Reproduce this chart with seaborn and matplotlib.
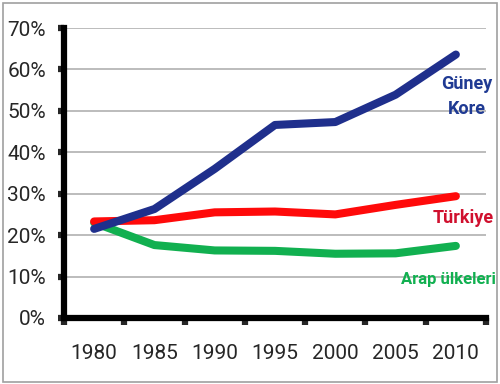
import pandas as pd
import matplotlib.pyplot as plt
import seaborn as sns
from matplotlib.patches import Rectangle
from matplotlib.ticker import PercentFormatter

# data (share, %)
years = ["1980", "1985", "1990", "1995", "2000", "2005", "2010"]
guney_kore = [21.5, 26.3, 36.0, 46.6, 47.3, 53.9, 63.6]
turkiye = [23.3, 23.6, 25.5, 25.7, 25.0, 27.3, 29.4]
arap = [23.0, 17.6, 16.3, 16.2, 15.5, 15.6, 17.4]

series = ["Güney Kore", "Türkiye", "Arap ülkeleri"]
colors = {"Güney Kore": "#1f2f8c", "Türkiye": "#ff0a0a", "Arap ülkeleri": "#11b050"}

df = pd.DataFrame({
    "year": years * 3,
    "x": list(range(len(years))) * 3,
    "value": guney_kore + turkiye + arap,
    "series": sum([[s] * len(years) for s in series], []),
})

sns.set_style("white")
plt.rcParams["font.family"] = ["Roboto", "DejaVu Sans"]

fig = plt.figure(figsize=(5, 3.84), dpi=100)
ax = fig.add_axes([0.128, 0.172, 0.844, 0.755])

# blue drawn last so it sits on top where the lines meet
sns.lineplot(data=df, x="x", y="value", hue="series", palette=colors,
             hue_order=series[::-1], linewidth=5.8, legend=False, ax=ax, zorder=3,
             solid_capstyle="round", solid_joinstyle="round")

ax.set_xlim(-0.5, 6.5)
ax.set_ylim(0, 70)
ax.set_yticks(range(0, 71, 10))
ax.yaxis.set_major_formatter(PercentFormatter(decimals=0))
ax.set_xticks(range(len(years)))
ax.set_xticklabels(years)
ax.set_xticks([i - 0.5 for i in range(len(years) + 1)], minor=True)

ax.grid(axis="y", color="#b0b0b0", linewidth=1.2, zorder=0)
ax.set_axisbelow(True)
ax.set_xlabel("")
ax.set_ylabel("")

for side in ["top", "right"]:
    ax.spines[side].set_visible(False)
for side in ["left", "bottom"]:
    ax.spines[side].set_linewidth(4.5)
    ax.spines[side].set_color("black")
    ax.spines[side].set_zorder(4)

ax.tick_params(axis="y", which="major", length=4, width=4.5, direction="out",
               labelsize=15, pad=9, left=True)
ax.tick_params(axis="x", which="major", length=0, labelsize=15, pad=19)
ax.tick_params(axis="x", which="minor", length=5, width=4.5, direction="out",
               bottom=True)

# series labels
ax.text(6.18, 53.5, "Güney\nKore", color="#1f3a93", fontsize=13, fontweight="bold",
        ha="center", va="center", linespacing=1.45)
ax.text(6.12, 24.2, "Türkiye", color="#d0102e", fontsize=13, fontweight="bold",
        ha="center", va="center")
ax.text(5.88, 9.2, "Arap ülkeleri", color="#11b050", fontsize=12, fontweight="bold",
        ha="center", va="center")

# light frame around the whole picture
fig.patches.append(Rectangle((0.006, 0.006), 0.988, 0.986, transform=fig.transFigure,
                             fill=False, edgecolor="#a0a0a0", linewidth=1.2))

plt.savefig("out.png", dpi=100)
